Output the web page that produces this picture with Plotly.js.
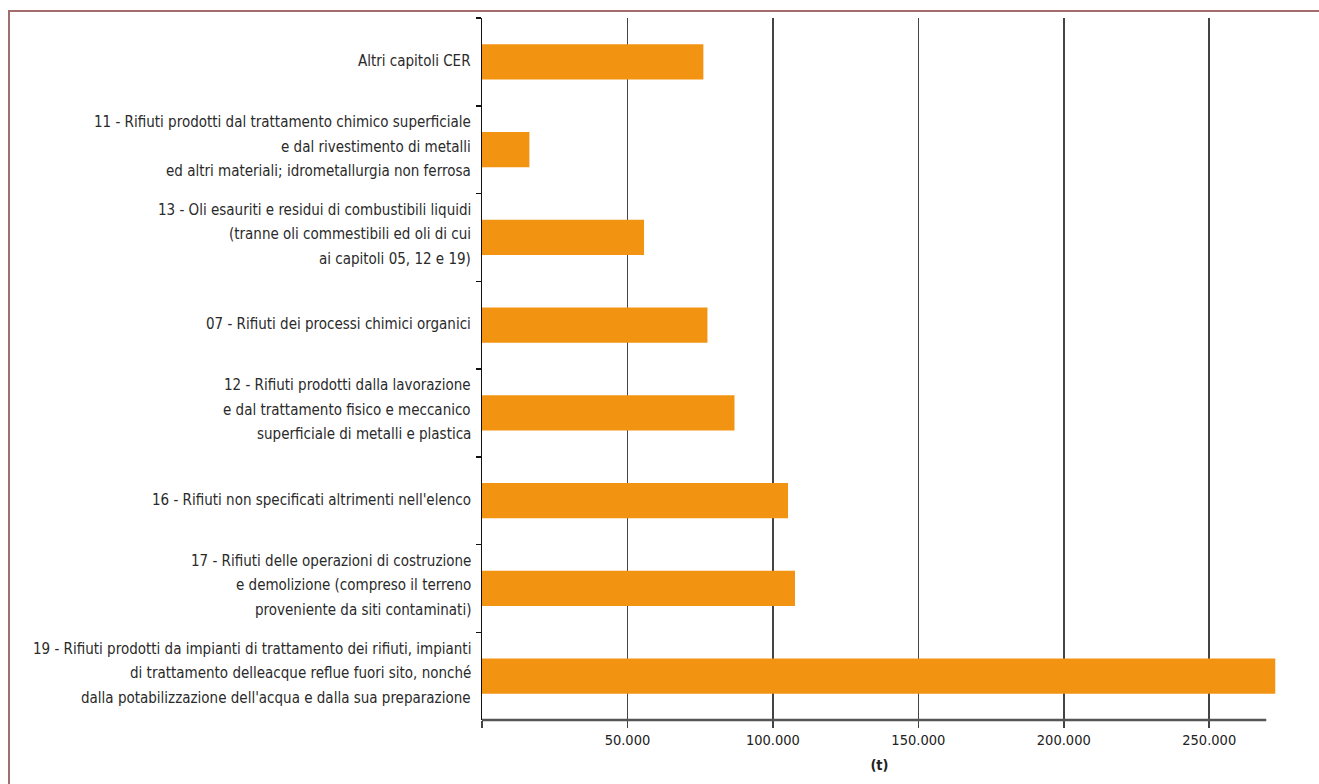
<!DOCTYPE html>
<html>
<head>
<meta charset="utf-8">
<script src="https://cdn.plot.ly/plotly-3.0.1.min.js"></script>
<style>
  html, body { margin: 0; padding: 0; background: #ffffff; overflow: hidden; }
  #frame { position: absolute; left: 8px; top: 10px; width: 1400px; height: 900px;
           border-left: 2px solid #a36d6d; border-top: 2px solid #a36d6d; box-sizing: border-box; z-index: 0; }
  #chart { position: absolute; left: 0; top: 0; width: 1319px; height: 784px; z-index: 1; }
</style>
</head>
<body>
<div id="frame"></div>
<div id="chart"></div>
<script>
const categories = [
  "Altri capitoli CER",
  "11 - Rifiuti prodotti dal trattamento chimico superficiale\ne dal rivestimento di metalli\ned altri materiali; idrometallurgia non ferrosa",
  "13 - Oli esauriti e residui di combustibili liquidi\n(tranne oli commestibili ed oli di cui\nai capitoli 05, 12 e 19)",
  "07 - Rifiuti dei processi chimici organici",
  "12 - Rifiuti prodotti dalla lavorazione\ne dal trattamento fisico e meccanico\nsuperficiale di metalli e plastica",
  "16 - Rifiuti non specificati altrimenti nell'elenco",
  "17 - Rifiuti delle operazioni di costruzione\ne demolizione (compreso il terreno\nproveniente da siti contaminati)",
  "19 - Rifiuti prodotti da impianti di trattamento dei rifiuti, impianti\ndi trattamento delleacque reflue fuori sito, nonché\ndalla potabilizzazione dell'acqua e dalla sua preparazione"
];
const values = [76100, 16300, 55700, 77500, 86800, 105200, 107600, 272700];
const tickValues = [0, 50000, 100000, 150000, 200000, 250000];
const tickLabels = ["", "50.000", "100.000", "150.000", "200.000", "250.000"];
const axisLineEnd = 269600;
const xTitle = "(t)";

const catKeys = categories.map((c, i) => "c" + i);
const FONT = "'Liberation Sans Narrow', 'DejaVu Sans Condensed', 'Arial Narrow', sans-serif";

const annotations = [];
categories.forEach((lab, i) => {
  const lines = lab.split("\n");
  const n = lines.length;
  lines.forEach((ln, j) => {
    annotations.push({
      xref: "paper", yref: "y", x: 0, y: catKeys[i],
      xanchor: "right", yanchor: "middle",
      xshift: -9, yshift: -((j - (n - 1) / 2) * 24.5) + (n > 1 ? 3 : 1),
      text: ln, showarrow: false,
      font: { family: FONT, size: 15, color: "#2a2a2a" }
    });
  });
});

const trace = {
  type: "bar", orientation: "h",
  x: values, y: catKeys,
  marker: { color: "#f29312", line: { width: 0 } },
  width: 0.4,
  hoverinfo: "x"
};

const layout = {
  width: 1319, height: 784,
  margin: { l: 482, r: 42, t: 18, b: 64 },
  paper_bgcolor: "rgba(0,0,0,0)",
  plot_bgcolor: "rgba(0,0,0,0)",
  separators: ",.",
  showlegend: false,
  font: { family: FONT, color: "#222" },
  xaxis: {
    range: [0, 273300],
    tickvals: tickValues, ticktext: tickLabels,
    ticks: "outside", ticklen: 7, tickwidth: 1.5, tickcolor: "#444",
    showgrid: true, gridcolor: "#444444", gridwidth: 1.6,
    zeroline: false, showline: false,
    tickfont: { family: FONT, size: 14.5, color: "#222" },
    title: { text: "<b>" + xTitle + "</b>", font: { family: FONT, size: 14.5, color: "#222" }, standoff: 12 }
  },
  yaxis: {
    type: "category",
    autorange: "reversed",
    showticklabels: false,
    tickson: "boundaries",
    ticks: "outside", ticklen: 5, tickwidth: 1.5, tickcolor: "#111",
    showgrid: false, zeroline: false,
    showline: true, linecolor: "#111", linewidth: 1.5
  },
  shapes: [{
    type: "line", xref: "x", yref: "paper",
    x0: 0, x1: axisLineEnd, y0: 0, y1: 0,
    line: { color: "#555", width: 2.5 }
  }],
  annotations: annotations
};

Plotly.newPlot("chart", [trace], layout, { displayModeBar: false, staticPlot: true });
</script>
</body>
</html>
